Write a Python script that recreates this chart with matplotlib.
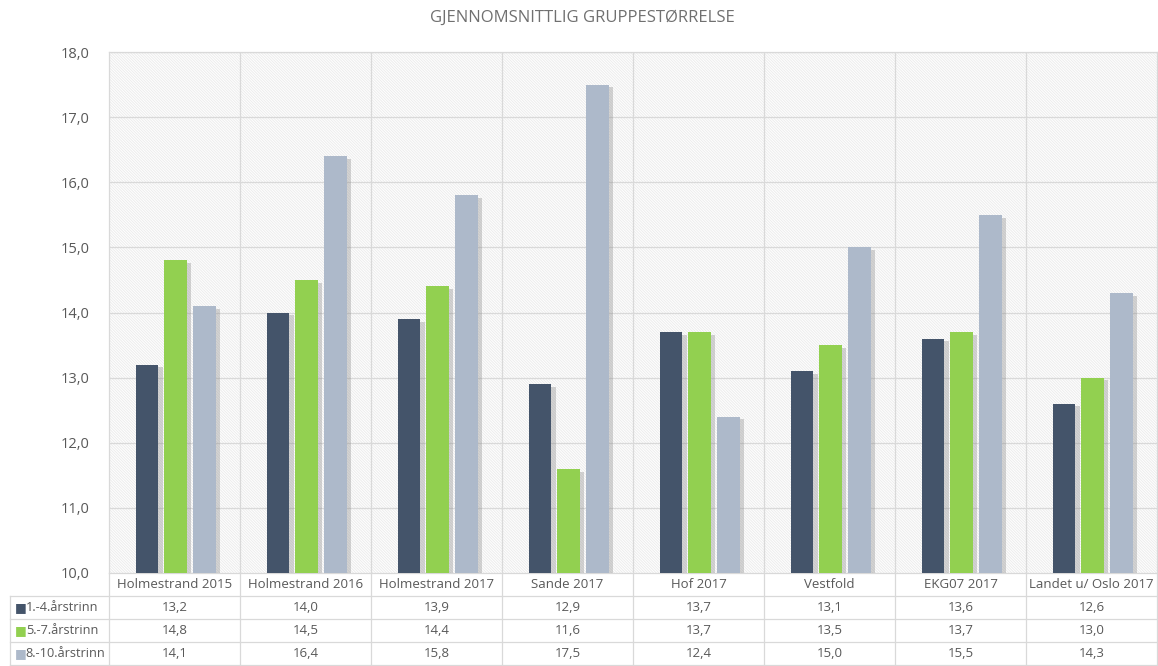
import matplotlib.pyplot as plt
import matplotlib.patheffects as pe
import numpy as np

# data
categories = ["Holmestrand 2015", "Holmestrand 2016", "Holmestrand 2017", "Sande 2017",
              "Hof 2017", "Vestfold", "EKG07 2017", "Landet u/ Oslo 2017"]
series_names = ["1.-4.årstrinn", "5.-7.årstrinn", "8.-10.årstrinn"]
vals_1_4 = [13.2, 14.0, 13.9, 12.9, 13.7, 13.1, 13.6, 12.6]
vals_5_7 = [14.8, 14.5, 14.4, 11.6, 13.7, 13.5, 13.7, 13.0]
vals_8_10 = [14.1, 16.4, 15.8, 17.5, 12.4, 15.0, 15.5, 14.3]
colors = ["#44546a", "#92d050", "#adb9ca"]

plt.rcParams['font.family'] = ['Open Sans', 'DejaVu Sans']
plt.rcParams['hatch.color'] = '#ececec'
plt.rcParams['hatch.linewidth'] = 0.7

W, H = 1158, 666
fig = plt.figure(figsize=(W / 100, H / 100), dpi=100)
txt = '#595959'
grid = '#d9d9d9'

# pixel layout
left, right, top, bottom = 109, 1157, 52, 573
tbl_left, tbl_bottom = 10, 665

ax = fig.add_axes([left / W, 1 - bottom / H, (right - left) / W, (bottom - top) / H])
ax.set_xlim(-0.5, len(categories) - 0.5)
ax.set_ylim(10, 18)
ax.patch.set_facecolor('white')
ax.patch.set_hatch('\\\\\\\\\\\\\\\\\\\\\\\\')
ax.patch.set_edgecolor('#ececec')

x = np.arange(len(categories))
bw = 0.175
step = 0.22
shadow = [pe.SimplePatchShadow(offset=(3, -2), shadow_rgbFace='#888888', alpha=0.35), pe.Normal()]
for i, vals in enumerate([vals_1_4, vals_5_7, vals_8_10]):
    ax.bar(x + (i - 1) * step + 0.01, np.array(vals) - 10, bottom=10, width=bw,
           color=colors[i], zorder=3, path_effects=shadow)

ax.set_yticks(np.arange(10, 18.1, 1))
ax.set_yticklabels([f"{v:.1f}".replace('.', ',') for v in np.arange(10, 18.1, 1)],
                   color=txt, fontsize=10.5)
ax.tick_params(axis='y', length=0, pad=14)
ax.set_xticks([])
for yv in np.arange(11, 18.1, 1):
    ax.axhline(yv, color=grid, lw=0.9, zorder=1)
for xv in np.arange(0.5, len(categories) - 0.5, 1):
    ax.axvline(xv, color=grid, lw=0.9, zorder=1)
for s in ax.spines.values():
    s.set_color(grid)
    s.set_linewidth(0.9)

# data table
catw = (right - left) / len(categories)
tax = fig.add_axes([tbl_left / W, 1 - tbl_bottom / H, (right - tbl_left) / W, (tbl_bottom - bottom) / H])
x0 = -0.5 - (left - tbl_left) / catw
tax.set_xlim(x0, len(categories) - 0.5)
tax.set_ylim(4, 0)
tax.axis('off')
for r in range(1, 5):
    tax.plot([x0, len(categories) - 0.5], [r, r], color=grid, lw=0.9, clip_on=False)
tax.plot([x0, x0], [1, 4], color=grid, lw=0.9, clip_on=False)
for xv in np.arange(-0.5, len(categories), 1):
    tax.plot([xv, xv], [0, 4], color=grid, lw=0.9, clip_on=False)

for j, c in enumerate(categories):
    tax.text(j, 0.5, c, ha='center', va='center', color=txt, fontsize=9.5)
for i, vals in enumerate([vals_1_4, vals_5_7, vals_8_10]):
    tax.text(x0 + 0.08, i + 1.5, "\u25a0", ha='center', va='center', color=colors[i], fontsize=9)
    tax.text(x0 + 0.12, i + 1.5, series_names[i], ha='left', va='center', color=txt, fontsize=9.2)
    for j, v in enumerate(vals):
        tax.text(j, i + 1.5, f"{v:.1f}".replace('.', ','), ha='center', va='center',
                 color=txt, fontsize=9.5)

fig.text(0.5 + 0.003, 1 - 18 / H, "GJENNOMSNITTLIG GRUPPESTØRRELSE", ha='center', va='center',
         color='#707070', fontsize=12)

fig.savefig("out.png", dpi=100)
